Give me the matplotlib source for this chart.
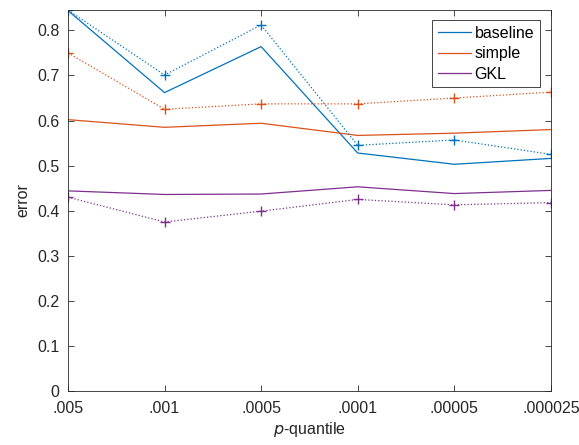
import matplotlib
matplotlib.use("Agg")
import matplotlib.pyplot as plt
import numpy as np

plt.rcParams["font.family"] = ["Liberation Sans", "DejaVu Sans"]

quantiles = [".005", ".001", ".0005", ".0001", ".00005", ".000025"]

baseline = [0.844, 0.662, 0.764, 0.528, 0.503, 0.516]
baseline_dot = [0.845, 0.701, 0.812, 0.545, 0.557, 0.525]
simple = [0.602, 0.585, 0.594, 0.567, 0.572, 0.580]
simple_dot = [0.750, 0.625, 0.637, 0.637, 0.650, 0.663]
gkl = [0.444, 0.436, 0.437, 0.453, 0.438, 0.445]
gkl_dot = [0.430, 0.375, 0.399, 0.425, 0.413, 0.418]

colors = ["#0072BD", "#D95319", "#7E2F8E"]

fig = plt.figure(figsize=(5.79, 4.45), dpi=100)
ax = fig.add_axes([0.1174, 0.1213, 0.834, 0.856])

x = np.arange(len(quantiles))
ax.plot(x, baseline, color=colors[0], lw=0.9, label="baseline")
ax.plot(x, simple, color=colors[1], lw=0.9, label="simple")
ax.plot(x, gkl, color=colors[2], lw=0.9, label="GKL")
ax.plot(x, baseline_dot, color=colors[0], lw=0.9, ls=":", marker="+", ms=7)
ax.plot(x, simple_dot, color=colors[1], lw=0.9, ls=":", marker="+", ms=7)
ax.plot(x, gkl_dot, color=colors[2], lw=0.9, ls=":", marker="+", ms=7)

ax.set_xlim(0, len(quantiles) - 1)
ax.set_ylim(0, max(baseline_dot))
ax.set_xticks(x)
ax.set_xticklabels(quantiles)
ax.set_yticks(np.arange(0, 0.81, 0.1))
ax.set_yticklabels(["0", "0.1", "0.2", "0.3", "0.4", "0.5", "0.6", "0.7", "0.8"])
ax.tick_params(direction="in", top=True, right=True, labelsize=11.5, length=4,
               width=0.6, colors="#262626")
ax.tick_params(axis="x", pad=7)
ax.tick_params(axis="y", pad=6)
for s in ax.spines.values():
    s.set_linewidth(0.6)
    s.set_color("#262626")

ax.set_xlabel("$p$-quantile", fontsize=11.5, color="#262626", labelpad=3)
ax.set_ylabel("error", fontsize=11.5, color="#262626", labelpad=5)

leg = ax.legend(loc="upper right", fontsize=11.5, fancybox=False, framealpha=1,
                edgecolor="#262626", handlelength=2.1, borderpad=0.35,
                labelspacing=0.35, handletextpad=0.2, borderaxespad=0,
                bbox_to_anchor=(0.977, 0.974))
leg.get_frame().set_linewidth(0.6)

fig.savefig("out.png", dpi=100)
